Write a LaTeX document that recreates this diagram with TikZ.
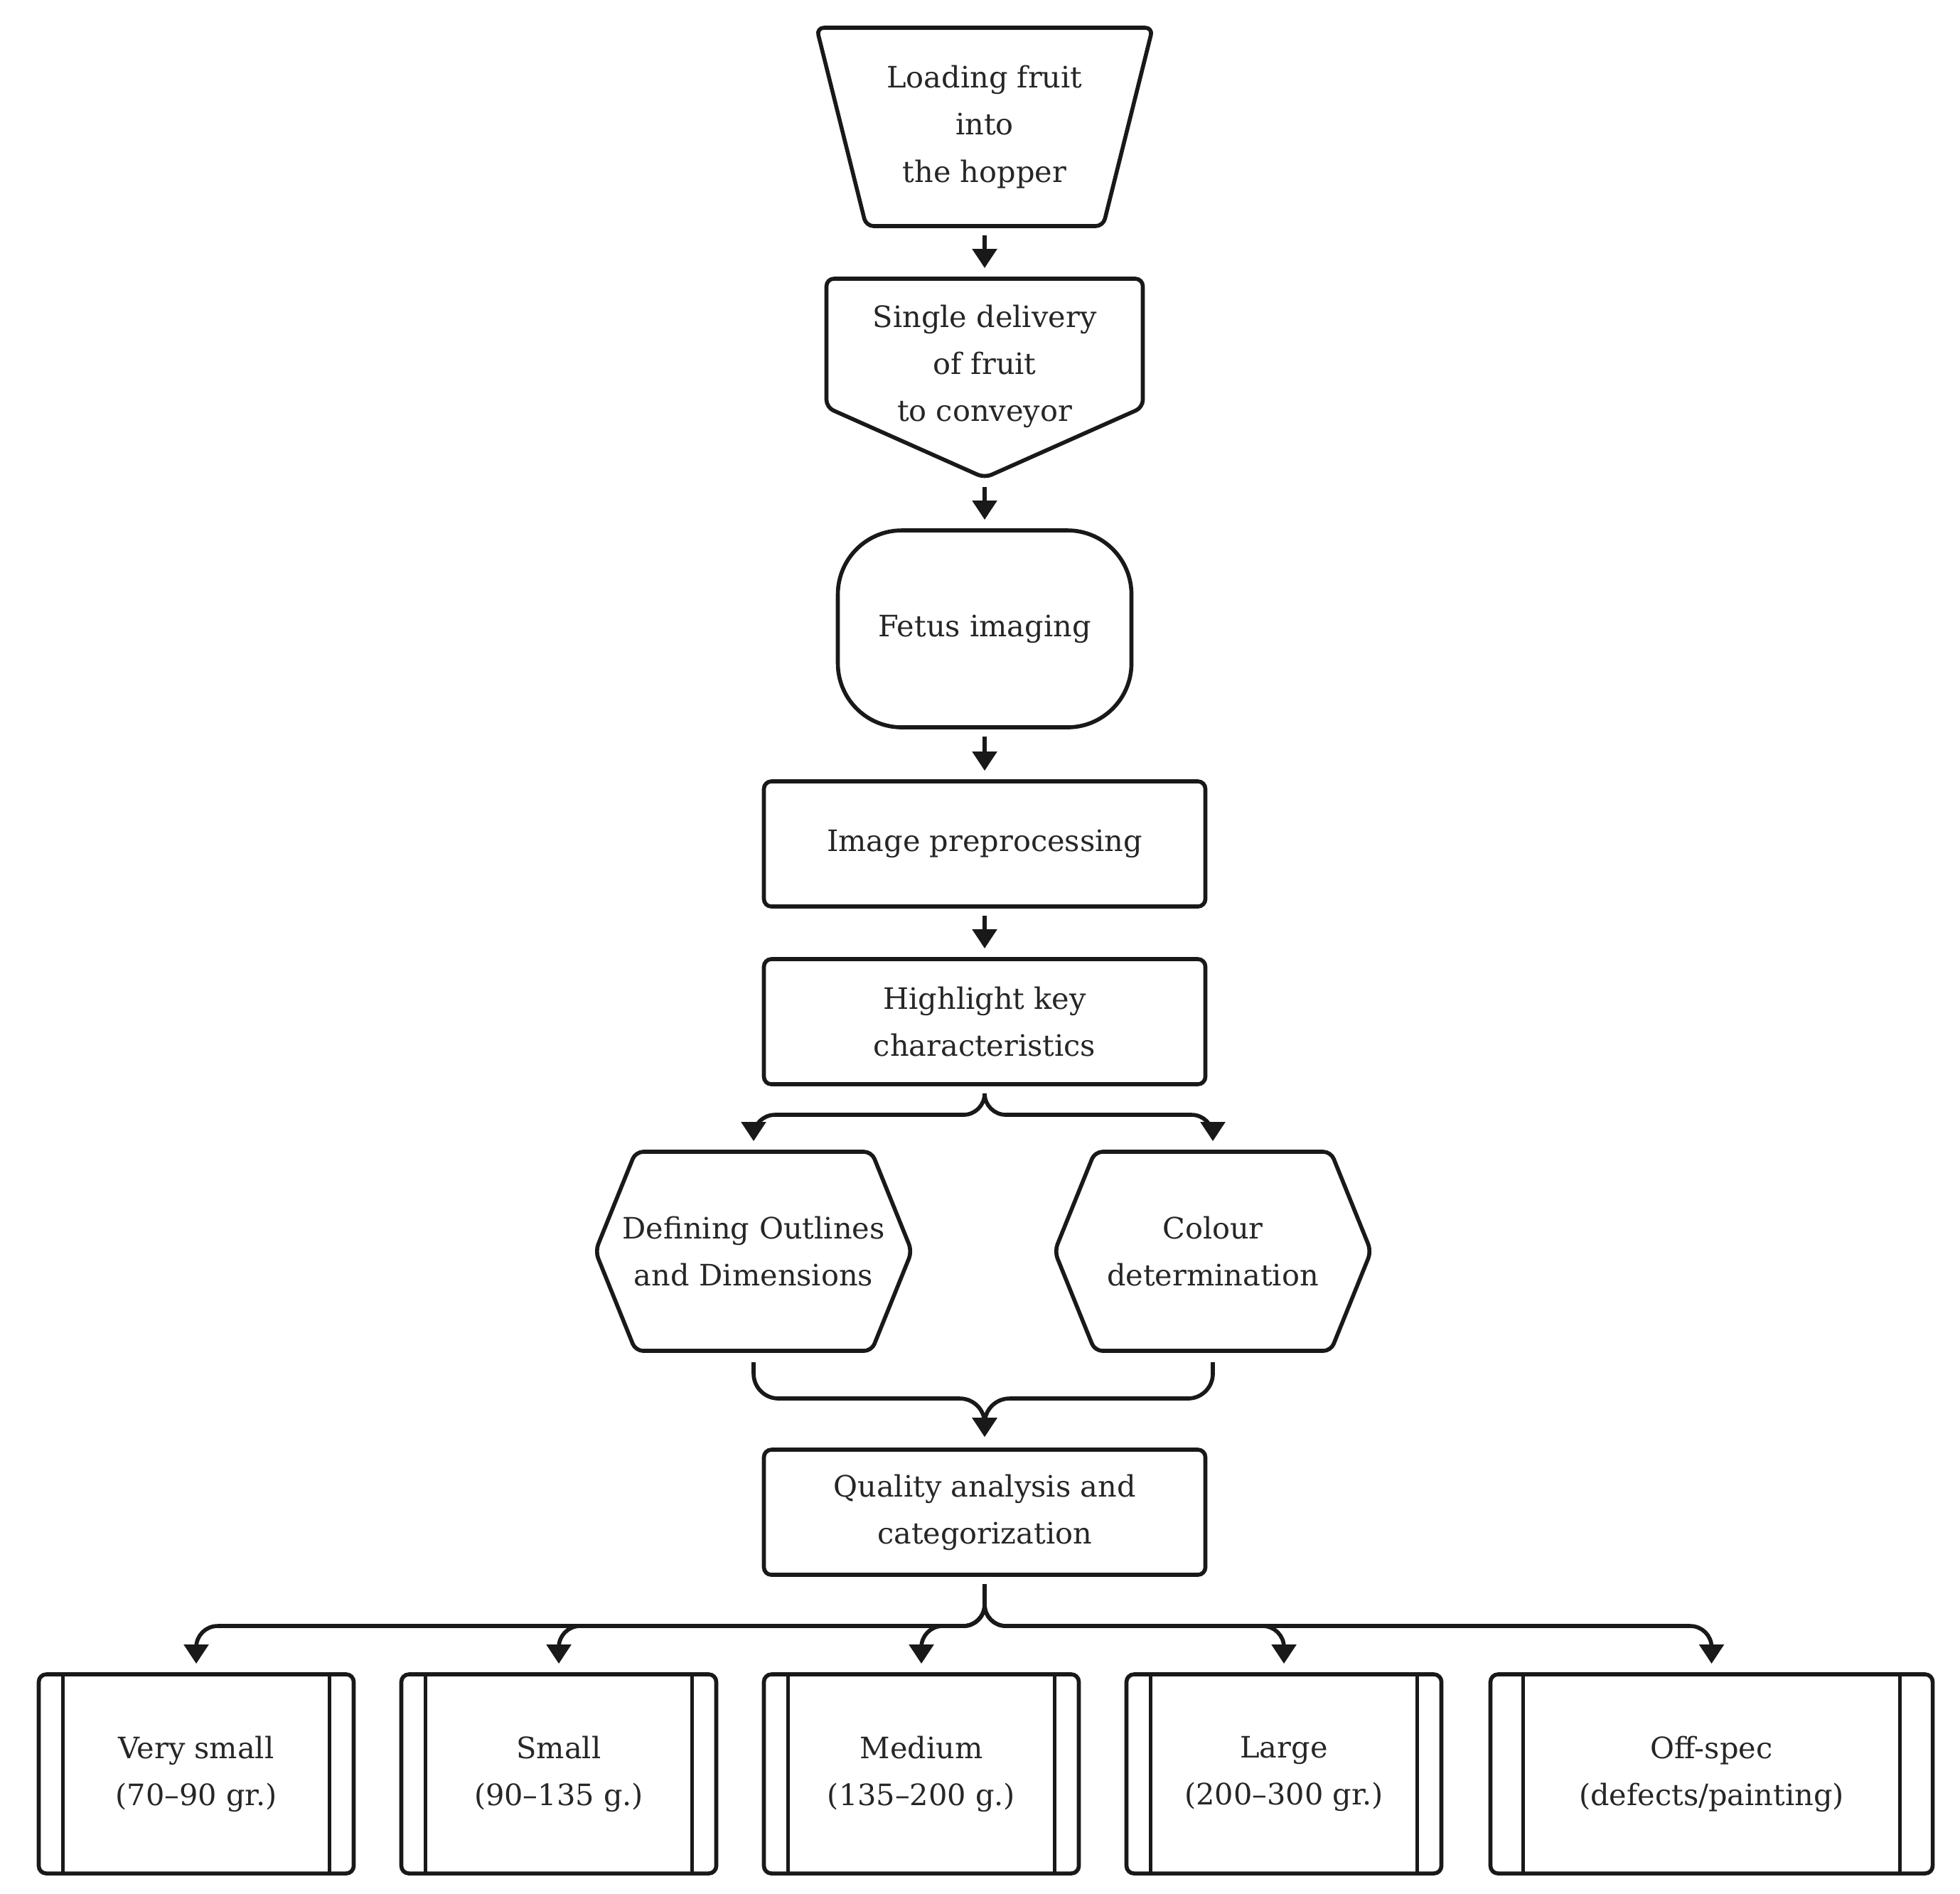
\documentclass[tikz,border=0pt]{standalone}
\usepackage{fontspec}
\setmainfont{DejaVu Serif}
\usetikzlibrary{arrows.meta,positioning,shapes.geometric,shapes.symbols,shapes.misc}

\begin{document}
\begin{tikzpicture}[
  font=\fontsize{11.8}{18.8}\selectfont,
  node distance=0.74cm and 0.67cm,
  base/.style={draw=black!90, line width=1.6pt, text=black!85, align=center, inner sep=2pt, outer sep=0pt},
  hopperbox/.style={base, trapezium, shape border rotate=180, trapezium stretches=true, trapezium angle=72, minimum width=4.73cm, minimum height=2.79cm, rounded corners=3pt},
  feedbox/.style={base, draw=none, rectangle, minimum width=4.45cm, minimum height=2.8cm, text depth=12pt},
  border/.style={draw=black!90, line width=1.6pt, rounded corners=3pt},
  camerabox/.style={base, rectangle, rounded corners=0.9cm, minimum width=4.13cm, minimum height=2.77cm},
  procbox/.style={base, rectangle, rounded corners=3pt, minimum width=6.21cm, minimum height=1.76cm},
  prepbox/.style={base, signal, signal to=east and west, signal pointer angle=136, text width=3.9cm, inner xsep=-0.29cm, minimum height=2.8cm, rounded corners=3pt},
  sortbox/.style={base, rectangle, rounded corners=3pt, minimum width=4.43cm, minimum height=2.8cm,
    path picture={
      \draw[line width=1.2pt] ([xshift=#1]path picture bounding box.north west) -- ([xshift=#1]path picture bounding box.south west);
      \draw[line width=1.2pt] ([xshift=-#1]path picture bounding box.north east) -- ([xshift=-#1]path picture bounding box.south east);
    }},
  sortbox/.default=0.34cm,
  arr/.style={-{Triangle[length=0.27cm,width=0.34cm]}, line width=1.6pt, draw=black!90, shorten <=0.13cm, shorten >=0.15cm}
]
\useasboundingbox (0,0) rectangle (27.57,-26.63);

\node[hopperbox] (hopper) at (13.85,-1.785) {Loading fruit\\into\\the hopper};
\node[feedbox, below=of hopper] (feed) {Single delivery\\of fruit\\to conveyor};
% pointed outline of the delivery step
\draw[border] (feed.north west) -- (feed.north east) -- ([yshift=0.99cm]feed.south east) -- (feed.south) -- ([yshift=0.99cm]feed.south west) -- cycle;
\node[camerabox, below=of feed] (imaging) {Fetus imaging};
\node[procbox, below=0.76cm of imaging] (preproc) {Image preprocessing};
\node[procbox, below=of preproc] (keychar) {Highlight key\\characteristics};

\node[prepbox, below=0.95cm of keychar, xshift=-3.25cm] (outline) {Defining Outlines\\and Dimensions};
\node[prepbox, below=0.95cm of keychar, xshift=3.21cm] (colour) {Colour\\determination};

\node[procbox, below=5.14cm of keychar] (quality) {Quality analysis and\\categorization};
\coordinate[above=0.72cm of quality] (join);

\node[sortbox, below=1.40cm of quality, xshift=-0.89cm] (medium) {Medium\\(135--200 g.)};
\node[sortbox, left=of medium] (small) {Small\\(90--135 g.)};
\node[sortbox, left=of small] (verysmall) {Very small\\(70--90 gr.)};
\node[sortbox, right=of medium] (large) {Large\\(200--300 gr.)};
\node[sortbox=0.46cm, right=0.69cm of large, minimum width=6.22cm] (offspec) {Off-spec\\(defects/painting)};

\draw[arr] (hopper) -- (feed);
\draw[arr] (feed) -- (imaging);
\draw[arr] (imaging) -- (preproc);
\draw[arr] (preproc) -- (keychar);

\draw[arr, rounded corners=0.3cm] (keychar.south) -- ++(0,-0.43) -| (outline.north);
\draw[arr, rounded corners=0.3cm] (keychar.south) -- ++(0,-0.43) -| (colour.north);

\draw[arr, rounded corners=0.35cm, shorten <=0.16cm, shorten >=0.18cm] (outline.south) |- (join) -- (quality.north);
\draw[arr, rounded corners=0.35cm, shorten <=0.16cm, shorten >=0.18cm] (colour.south) |- (join) -- (quality.north);

\draw[arr, rounded corners=0.3cm] (quality.south) -- ++(0,-0.72) -| (verysmall.north);
\draw[arr, rounded corners=0.3cm] (quality.south) -- ++(0,-0.72) -| (small.north);
\draw[arr, rounded corners=0.3cm] (quality.south) -- ++(0,-0.72) -| (medium.north);
\draw[arr, rounded corners=0.3cm] (quality.south) -- ++(0,-0.72) -| (large.north);
\draw[arr, rounded corners=0.3cm] (quality.south) -- ++(0,-0.72) -| (offspec.north);
\end{tikzpicture}
\end{document}
